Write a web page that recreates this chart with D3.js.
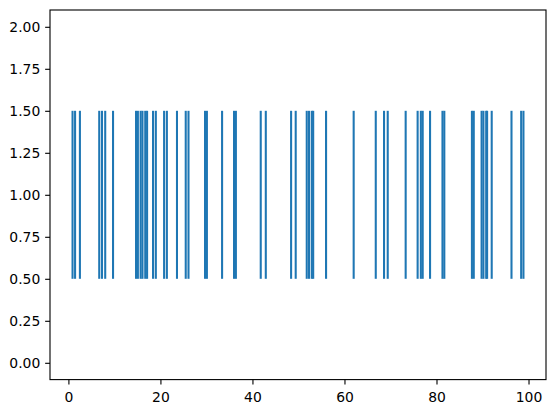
<!DOCTYPE html>
<html>
<head>
<meta charset="utf-8">
<script src="https://cdn.jsdelivr.net/npm/d3@7"></script>
<style>
  body { margin: 0; background: #fff; }
  text { font-family: "DejaVu Sans", sans-serif; }
</style>
</head>
<body>
<svg id="chart"></svg>
<script>
// event positions
const events = [
  0.9, 1.45, 2.5, 6.7, 7.3, 8.0, 9.7,
  14.7, 15.1, 15.7, 16.1, 16.7, 17.1, 18.4, 19.0,
  20.8, 21.4, 23.6, 25.5, 26.1, 29.7, 30.1, 33.4, 36.0, 36.4,
  41.8, 42.9, 48.4, 49.4, 51.8, 52.3, 52.9, 53.2, 56.0,
  62.0, 66.8, 68.6, 69.4, 73.3, 75.9, 76.6, 77.0, 78.6,
  81.3, 81.7, 87.7, 88.1, 89.8, 90.2, 90.8, 91.0, 92.0,
  96.3, 98.4, 98.9
];
const lineOffset = 1;
const lineLength = 1;
const xTicks = [0, 20, 40, 60, 80, 100];
const yTicks = [0, 0.25, 0.5, 0.75, 1.0, 1.25, 1.5, 1.75, 2.0];

const width = 556, height = 413;
const margin = {top: 10, right: 10, bottom: 33.4, left: 50};

const svg = d3.select("#chart")
  .attr("width", width)
  .attr("height", height);

// matplotlib style 5% margins around the data
const [xmin, xmax] = d3.extent(events);
const pad = (xmax - xmin) * 0.05;
const x = d3.scaleLinear()
  .domain([xmin - pad, xmax + pad])
  .range([margin.left, width - margin.right]);

const y = d3.scaleLinear()
  .domain([-0.1, 2.1])
  .range([height - margin.bottom, margin.top]);

// events
svg.append("g")
  .selectAll("line")
  .data(events)
  .join("line")
  .attr("x1", d => x(d))
  .attr("x2", d => x(d))
  .attr("y1", y(lineOffset - lineLength / 2))
  .attr("y2", y(lineOffset + lineLength / 2))
  .attr("stroke", "#1f77b4")
  .attr("stroke-width", 2.08);

// axes
const xAxis = svg.append("g")
  .attr("transform", `translate(0,${height - margin.bottom})`)
  .call(d3.axisBottom(x).tickValues(xTicks).tickSize(4.86).tickPadding(7.5).tickSizeOuter(0));

const yAxis = svg.append("g")
  .attr("transform", `translate(${margin.left},0)`)
  .call(d3.axisLeft(y).tickValues(yTicks).tickFormat(d3.format(".2f")).tickSize(4.86).tickPadding(4.86).tickSizeOuter(0));

[xAxis, yAxis].forEach(g => {
  g.select(".domain").remove();
  g.selectAll(".tick line").attr("stroke", "#000").attr("stroke-width", 1.11);
  g.selectAll(".tick text").attr("fill", "#000").attr("font-size", 13.9).attr("font-family", "DejaVu Sans, sans-serif");
});

// frame
svg.append("rect")
  .attr("x", margin.left)
  .attr("y", margin.top)
  .attr("width", width - margin.left - margin.right)
  .attr("height", height - margin.top - margin.bottom)
  .attr("fill", "none")
  .attr("stroke", "#000")
  .attr("stroke-width", 1.11);
</script>
</body>
</html>
